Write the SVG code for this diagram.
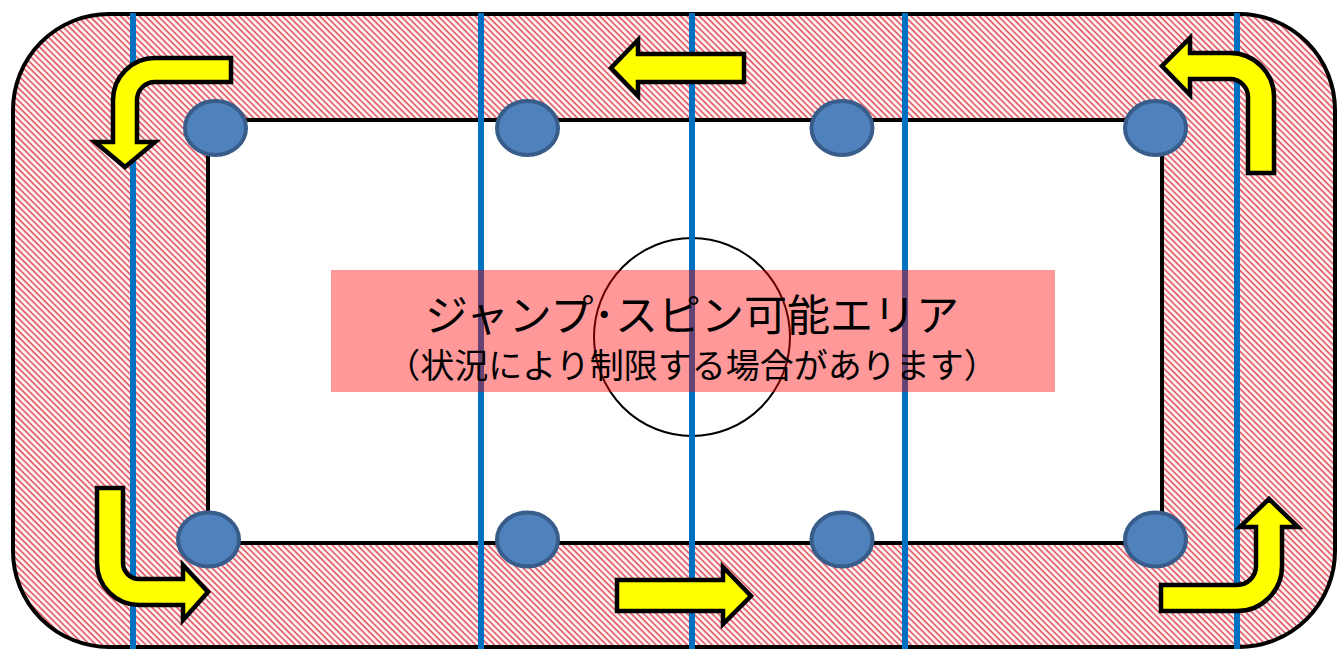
<svg xmlns="http://www.w3.org/2000/svg" width="1339" height="650" viewBox="0 0 1339 650">
<style>
.blue{stroke:#0070c0;stroke-width:6;fill:none}
.node{fill:#4f81bd;stroke:#385d8a;stroke-width:4}
.arrow{fill:#ffff00;stroke:#000;stroke-width:4.5;stroke-linejoin:miter}
.t1{font-family:"Noto Sans CJK JP","Noto Sans CJK SC",sans-serif;font-size:43px;fill:#000;text-anchor:middle}
.t2{font-family:"Noto Sans CJK JP","Noto Sans CJK SC",sans-serif;font-size:34px;fill:#000;text-anchor:middle}
</style>
<defs>
<pattern id="hatch" width="4.4" height="4.4" patternUnits="userSpaceOnUse" patternTransform="rotate(45)">
<rect width="4.4" height="4.4" fill="#fff2f2"/>
<rect width="4.4" height="1.6" fill="#df5a64"/>
</pattern>
</defs>
<rect width="1339" height="650" fill="#ffffff"/>
<g id="rink">
<rect x="13" y="14" width="1322" height="633" rx="96" ry="96" fill="url(#hatch)" stroke="#000" stroke-width="4"/>
<rect x="208" y="120" width="954" height="423" fill="#ffffff" stroke="#000" stroke-width="4"/>
<ellipse cx="692" cy="337" rx="98" ry="99" fill="none" stroke="#000" stroke-width="2"/>
</g>
<g id="lines">
<line class="blue" x1="133" y1="13" x2="133" y2="649"/>
<line class="blue" x1="481" y1="13" x2="481" y2="649"/>
<line class="blue" x1="692" y1="13" x2="692" y2="649"/>
<line class="blue" x1="905" y1="13" x2="905" y2="649"/>
<line class="blue" x1="1237" y1="13" x2="1237" y2="649"/>
</g>
<g id="node-tl"><ellipse class="node" cx="215.5" cy="128" rx="30.5" ry="27"/></g>
<g id="node-t2"><ellipse class="node" cx="527.5" cy="128" rx="30.5" ry="27"/></g>
<g id="node-t3"><ellipse class="node" cx="842" cy="128" rx="30.5" ry="27"/></g>
<g id="node-tr"><ellipse class="node" cx="1155.5" cy="128" rx="30.5" ry="27"/></g>
<g id="node-bl"><ellipse class="node" cx="208.5" cy="539.5" rx="30.5" ry="27"/></g>
<g id="node-b2"><ellipse class="node" cx="527.5" cy="539.5" rx="30.5" ry="27"/></g>
<g id="node-b3"><ellipse class="node" cx="842" cy="539.5" rx="30.5" ry="27"/></g>
<g id="node-br"><ellipse class="node" cx="1155.5" cy="539.5" rx="30.5" ry="27"/></g>
<g id="connectors">
<path class="arrow" d="M231,58 H155 A42,42 0 0 0 113,100 V142 H95 L125,167 L155,142 H137 V100 A18,18 0 0 1 155,82 H231 Z"/>
<path class="arrow" d="M744,54 H638 V40 L611,68 L638,96 V82 H744 Z"/>
<path class="arrow" d="M1190,53 H1230 A44,44 0 0 1 1274,97 V173 H1248 V97 A18,18 0 0 0 1230,79 H1190 V95 L1162,66 L1190,38 Z"/>
<path class="arrow" d="M97,488 H123 V563 A16,16 0 0 0 139,579 H183 V565 L208,592 L183,620 V605 H139 A42,42 0 0 1 97,563 Z"/>
<path class="arrow" d="M617,580 H723 V567 L751,596 L723,624 V611 H617 Z"/>
<path class="arrow" d="M1161,585 H1237 A19,19 0 0 0 1256,566 V527 H1240 L1269,499 L1298,527 H1282 V566 A45,45 0 0 1 1237,611 H1161 Z"/>
</g>
<g id="label">
<rect x="331" y="270" width="724" height="122" fill="#ff0000" fill-opacity="0.4"/>
<text class="t1" x="692" y="331">ジャンプ･スピン可能エリア</text>
<text class="t2" x="692" y="378">（状況により制限する場合があります）</text>
</g>
</svg>
